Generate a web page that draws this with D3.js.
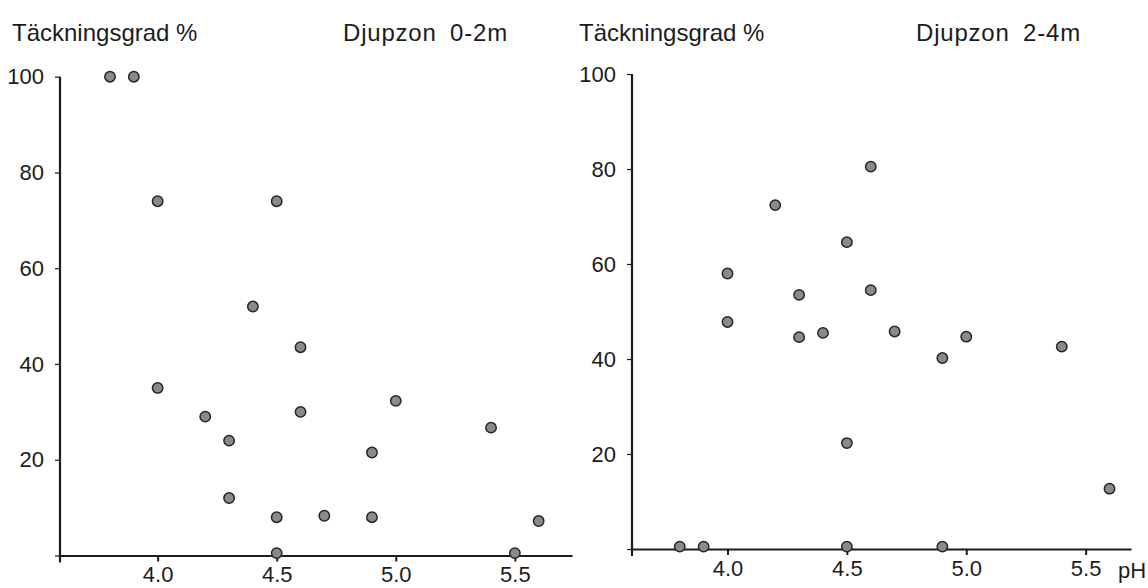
<!DOCTYPE html>
<html>
<head>
<meta charset="utf-8">
<script src="https://cdn.jsdelivr.net/npm/d3@7"></script>
<style>
  body { margin: 0; background: #fff; }
  svg { display: block; font-family: "Liberation Sans", Arial, sans-serif; }
</style>
</head>
<body>
<div id="chart"></div>
<script>
// Täckningsgrad (%) mot pH, två djupzoner
const yTicks = [0, 20, 40, 60, 80, 100];
const xTicks = [4.0, 4.5, 5.0, 5.5];

const titles = ["Djupzon 0-2m", "Djupzon 2-4m"];
const yLabel = "Täckningsgrad %";
const xLabel = "pH";

// Djupzon 0-2 m
const ph02 = [3.8, 3.9, 4.0, 4.0, 4.2, 4.3, 4.3, 4.4, 4.5, 4.5, 4.5, 4.6, 4.6, 4.7, 4.9, 4.9, 5.0, 5.4, 5.5, 5.6];
const cover02 = [100, 100, 74, 35, 29, 24, 12, 52, 74, 8, 0.5, 43.5, 30, 8.3, 21.5, 8, 32.3, 26.7, 0.5, 7.2];

// Djupzon 2-4 m
const ph24 = [3.8, 3.9, 4.0, 4.0, 4.2, 4.3, 4.3, 4.4, 4.5, 4.5, 4.5, 4.6, 4.6, 4.7, 4.9, 4.9, 5.0, 5.4, 5.6];
const cover24 = [0.5, 0.5, 58, 47.8, 72.4, 53.5, 44.6, 45.5, 64.6, 22.3, 0.5, 80.5, 54.5, 45.8, 40.2, 0.5, 44.7, 42.6, 12.7];

const width = 1148, height = 588;
const ink = "#1c1c1c";

const svg = d3.select("#chart").append("svg")
    .attr("width", width)
    .attr("height", height)
    .attr("viewBox", [0, 0, width, height]);

function panel(opts) {
  const x = d3.scaleLinear().domain(opts.xDomain).range(opts.xRange);
  const y = d3.scaleLinear().domain([0, 100]).range(opts.yRange);
  const g = svg.append("g");

  // y axis: ticks to the left, own domain line that runs a bit below zero
  g.append("g")
      .attr("transform", `translate(${x.range()[0]},0)`)
      .call(d3.axisLeft(y).tickValues(yTicks).tickSize(5).tickPadding(11)
        .tickFormat(d => d === 0 ? "" : d))
      .call(g => g.select(".domain").remove())
      .call(g => g.selectAll(".tick line").attr("stroke", ink).attr("stroke-width", 1.2))
      .call(g => g.selectAll("text").attr("fill", ink).attr("font-size", 22)
        .attr("font-family", "Liberation Sans, Arial, sans-serif"));

  g.append("line")
      .attr("x1", x.range()[0]).attr("x2", x.range()[0])
      .attr("y1", y(0) + 7).attr("y2", y(100))
      .attr("stroke", ink).attr("stroke-width", 2.2);

  // x axis
  g.append("g")
      .attr("transform", `translate(0,${y(0)})`)
      .call(d3.axisBottom(x).tickValues(xTicks).tickSize(6).tickPadding(5)
        .tickSizeOuter(0).tickFormat(d3.format(".1f")))
      .call(g => g.select(".domain").attr("stroke", ink).attr("stroke-width", 2.2))
      .call(g => g.selectAll(".tick line").attr("stroke", ink).attr("stroke-width", 2))
      .call(g => g.selectAll("text").attr("fill", ink).attr("font-size", 22)
        .attr("font-family", "Liberation Sans, Arial, sans-serif"));

  // titles
  g.append("text")
      .attr("x", opts.labelX)
      .attr("y", 41)
      .attr("fill", ink)
      .attr("font-size", 24)
      .text(yLabel);

  g.append("text")
      .attr("x", opts.titleX)
      .attr("y", 41)
      .attr("fill", ink)
      .attr("font-size", 24)
      .attr("letter-spacing", 0.8)
      .attr("word-spacing", 6)
      .text(opts.title);

  if (opts.showPH) {
    g.append("text")
        .attr("x", x.range()[1] - 13)
        .attr("y", y(0) + 29)
        .attr("fill", ink)
        .attr("font-size", 22)
        .text(xLabel);
  }

  // dots
  g.append("g")
    .selectAll("circle")
    .data(d3.zip(opts.ph, opts.cover))
    .join("circle")
      .attr("cx", d => x(d[0]))
      .attr("cy", d => y(d[1]))
      .attr("r", 5.2)
      .attr("fill", "#8a8a8a")
      .attr("stroke", "#262626")
      .attr("stroke-width", 1.5);
}

panel({
  ph: ph02, cover: cover02, title: titles[0],
  xDomain: [3.59, 5.74], xRange: [60, 572], yRange: [555.5, 76.7],
  labelX: 12, titleX: 343, showPH: false
});

panel({
  ph: ph24, cover: cover24, title: titles[1],
  xDomain: [3.6, 5.69], xRange: [632, 1131], yRange: [549, 74],
  labelX: 579, titleX: 916, showPH: true
});
</script>
</body>
</html>
